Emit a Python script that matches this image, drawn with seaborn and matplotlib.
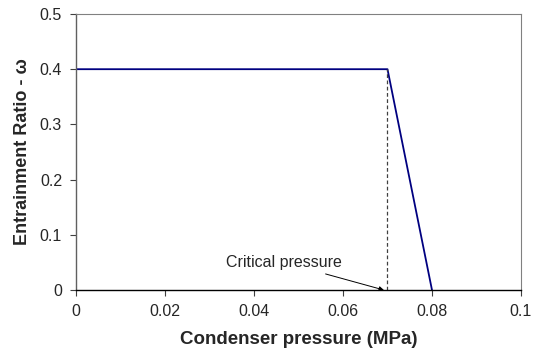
import matplotlib
matplotlib.use("Agg")
import matplotlib.pyplot as plt
import seaborn as sns
import pandas as pd

# chart data
pressure = [0.0, 0.07, 0.08]
entrainment = [0.4, 0.4, 0.0]
critical_p = 0.07
critical_w = 0.4
x_ticks = [0, 0.02, 0.04, 0.06, 0.08, 0.1]
x_tick_labels = ["0", "0.02", "0.04", "0.06", "0.08", "0.1"]
y_ticks = [0, 0.1, 0.2, 0.3, 0.4, 0.5]
y_tick_labels = ["0", "0.1", "0.2", "0.3", "0.4", "0.5"]

sns.set_style("white")
plt.rcParams["font.family"] = ["Liberation Sans", "DejaVu Sans"]

df = pd.DataFrame({"p": pressure, "w": entrainment})

fig = plt.figure(figsize=(5.36, 3.55), dpi=100)
ax = fig.add_axes([0.1418, 0.183, 0.8302, 0.7776])

sns.lineplot(data=df, x="p", y="w", color="#000080", linewidth=1.3, ax=ax, sort=False)
ax.plot([critical_p, critical_p], [0, critical_w], color="#404040",
        linestyle=(0, (3, 2)), linewidth=0.9)

ax.annotate("Critical pressure", xy=(critical_p - 0.0008, 0.0), xytext=(0.0467, 0.05),
            ha="center", va="center", fontsize=11.5,
            arrowprops=dict(arrowstyle="-|>", color="black", lw=0.7,
                            mutation_scale=7, shrinkA=2, shrinkB=0))

ax.set_xlim(0, 0.1)
ax.set_ylim(0, 0.5)
ax.set_xticks(x_ticks)
ax.set_xticklabels(x_tick_labels)
ax.set_yticks(y_ticks)
ax.set_yticklabels(y_tick_labels)
ax.tick_params(axis="both", labelsize=11.5, direction="out", length=4, width=0.8,
               color="#404040", bottom=True, left=True, pad=6)

ax.set_xlabel("Condenser pressure (MPa)", fontsize=13.5, fontweight="bold", labelpad=9)
ax.set_ylabel("Entrainment Ratio - ω", fontsize=13, fontweight="bold", labelpad=6)

for side in ["top", "right"]:
    ax.spines[side].set_color("#808080")
    ax.spines[side].set_linewidth(0.8)
ax.spines["left"].set_color("#606060")
ax.spines["left"].set_linewidth(1.0)
ax.spines["bottom"].set_color("black")
ax.spines["bottom"].set_linewidth(1.0)

fig.savefig("out.png", dpi=100)
